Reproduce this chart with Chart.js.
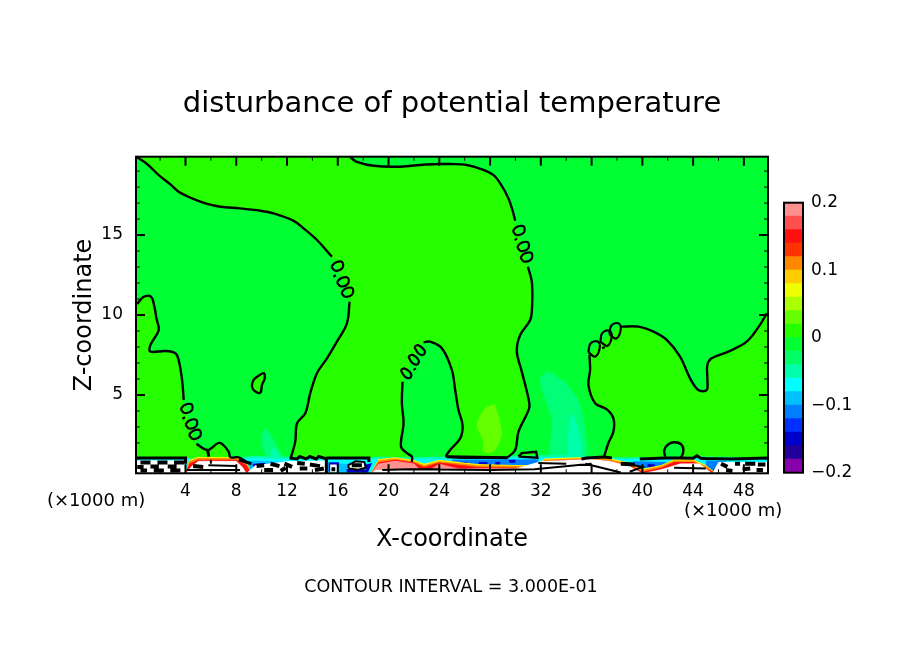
<!DOCTYPE html>
<html>
<head>
<meta charset="utf-8">
<script src="https://cdn.jsdelivr.net/npm/chart.js@4"></script>
<style>
  body { margin: 0; background: #fff; }
  #plot { position: absolute; left: 0; top: 0; }
  #bar { position: absolute; left: 770px; top: 170px; }
</style>
</head>
<body>
<canvas id="plot" width="904" height="654"></canvas>
<canvas id="bar" width="120" height="335"></canvas>
<script>
// axis values, x and z in 1000 m
var xMin = 0.1, xMax = 49.9, zMin = 0.1, zMax = 19.9;
var xTickLabels = [4, 8, 12, 16, 20, 24, 28, 32, 36, 40, 44, 48];
var xMinorTicks = [2, 6, 10, 14, 18, 22, 26, 30, 34, 38, 42, 46];
var zTickLabels = [5, 10, 15];
var zMinorTicks = [1, 2, 3, 4, 6, 7, 8, 9, 11, 12, 13, 14, 16, 17, 18, 19];

// colour levels, bottom to top
var levelEdges = [-0.2, -0.18, -0.16, -0.14, -0.12, -0.1, -0.08, -0.06, -0.04, -0.02, 0, 0.02, 0.04, 0.06, 0.08, 0.1, 0.12, 0.14, 0.16, 0.18, 0.2];
var levelColors = ['#8800aa', '#220099', '#0000cc', '#0030ff', '#0080ff', '#00c0ff', '#00ffff', '#00ffaa', '#00ff66', '#00ff33', '#26ff00', '#66ff00', '#aaff00', '#eeff00', '#ffcc00', '#ff8800', '#ff3300', '#ff1010', '#ff5050', '#ff9090'];
var colGreen = levelColors[9], colLime = levelColors[10], colLight = levelColors[11];
var colMint = levelColors[8], colAqua = levelColors[7], colCyan = levelColors[6];

// zero contour, top left down to the ground
var aX = [0.19, 0.98, 1.89, 2.81, 3.46, 4.52, 5.57, 6.75, 8.32, 9.9, 10.94, 12.52, 13.31, 14.36, 15.54];
var aZ = [19.86, 19.44, 18.75, 18.17, 17.71, 17.29, 16.98, 16.77, 16.67, 16.52, 16.35, 15.89, 15.42, 14.69, 13.64];
var a2X = [16.93, 16.72, 15.93, 15.15, 14.36, 13.83, 13.44, 12.79, 12.65, 12.31];
var a2Z = [10.83, 9.48, 8.33, 7.29, 6.36, 5.11, 3.86, 3.23, 2.08, 1.08];

// left edge contour
var bX = [0.19, 0.71, 1.29, 1.55, 1.71, 1.89, 1.24, 1.24, 2.42, 3.2, 3.46, 3.73, 3.86];
var bZ = [10.69, 11.14, 11.14, 10.52, 9.79, 9.06, 8.13, 7.71, 7.75, 7.61, 7.19, 5.94, 4.69];
var b2X = [4.86, 5.75, 6.54, 6.88, 7.4, 7.54, 8.19, 8.9];
var b2Z = [1.94, 1.56, 1.98, 1.94, 1.46, 1.1, 1.1, 0.75];
var bStubX = [5.75, 5.83], bStubZ = [1.56, 1.14];

// top arc, down past 30 km
var cX = [16.98, 17.51, 18.82, 20.66, 22.5, 23.94, 24.86, 26.17, 27.35, 28.27, 28.8, 29.45, 29.8, 29.98];
var cZ = [19.86, 19.58, 19.33, 19.27, 19.38, 19.44, 19.44, 19.38, 19.11, 18.75, 18.23, 17.29, 16.46, 15.89];
var c2X = [30.98, 31.29, 31.31, 31.16, 30.37, 30.11, 30.5, 31.02, 31.08, 30.24, 29.98, 29.37];
var c2Z = [13.02, 12.08, 10.52, 9.69, 8.75, 7.71, 6.46, 4.79, 4.17, 2.71, 1.56, 1.08];

// arch around 23 km
var dLeftX = [21.1, 21.05, 21.18, 20.98, 21.45, 21.84, 21.84];
var dLeftZ = [5.83, 4.48, 3.23, 1.77, 1.36, 1.14, 0.83];
var dRightX = [22.76, 23.28, 24.2, 24.99, 25.25, 25.51, 25.83, 25.65, 24.86, 24.6, 29.37];
var dRightZ = [8.29, 8.33, 7.92, 6.56, 5.31, 4.06, 3.12, 2.29, 1.56, 1.14, 1.08];

// right hand arch
var eLeftX = [35.83, 35.88, 35.75, 36.28, 37.2, 37.72, 37.72, 37.32, 36.98];
var eLeftZ = [7.5, 6.56, 5.63, 4.48, 4.1, 3.54, 2.71, 1.98, 1.14];
var eRightX = [38.3, 39.69, 40.87, 41.92, 42.97, 43.76, 44.41, 45.07, 45.12, 45.12, 45.46, 46.77, 48.22, 49.27, 49.8];
var eRightZ = [9.27, 9.27, 8.96, 8.44, 7.39, 6.04, 5.31, 5.31, 6.04, 6.88, 7.29, 7.71, 8.33, 9.38, 10.11];

// small closed contours
var loop10X = [9.76, 10.16, 10.24, 10.03, 9.9, 9.5, 9.24, 9.37, 9.76];
var loop10Z = [6.21, 6.36, 6.04, 5.63, 5.14, 5.21, 5.52, 5.94, 6.21];
var loop31X = [30.24, 30.5, 31.63, 31.73, 30.24];
var loop31Z = [1.14, 1.36, 1.44, 1.08, 1.14];
var hump42X = [41.79, 41.73, 42.05, 42.57, 43.1, 43.23, 43.02];
var hump42Z = [1.14, 1.56, 1.92, 2.04, 1.88, 1.46, 1.04];

// "0.00" contour labels
var labelLoops = [
  [[15.49, 15.8, 16.35, 16.35, 15.8, 15.49], [13.02, 13.27, 13.31, 12.92, 12.77, 13.02]],
  [[15.93, 16.24, 16.79, 16.79, 16.24, 15.93], [12.04, 12.29, 12.33, 11.94, 11.79, 12.04]],
  [[16.28, 16.59, 17.14, 17.14, 16.59, 16.28], [11.39, 11.64, 11.68, 11.29, 11.14, 11.39]],
  [[3.62, 3.93, 4.48, 4.48, 3.93, 3.62], [4.12, 4.37, 4.41, 4.02, 3.87, 4.12]],
  [[3.99, 4.3, 4.85, 4.85, 4.3, 3.99], [3.15, 3.4, 3.44, 3.05, 2.9, 3.15]],
  [[4.27, 4.58, 5.13, 5.13, 4.58, 4.27], [2.5, 2.75, 2.79, 2.4, 2.25, 2.5]],
  [[29.79, 30.1, 30.65, 30.65, 30.1, 29.79], [15.25, 15.5, 15.54, 15.15, 15, 15.25]],
  [[30.13, 30.44, 30.99, 30.99, 30.44, 30.13], [14.25, 14.5, 14.54, 14.15, 14, 14.25]],
  [[30.39, 30.7, 31.25, 31.25, 30.7, 30.39], [13.59, 13.84, 13.88, 13.49, 13.34, 13.59]],
  [[22.03, 22.34, 22.85, 22.74, 22.34, 22.03], [8.01, 8.11, 7.76, 7.51, 7.61, 8.01]],
  [[21.56, 21.87, 22.38, 22.27, 21.87, 21.56], [7.41, 7.51, 7.16, 6.91, 7.01, 7.41]],
  [[20.96, 21.27, 21.78, 21.67, 21.27, 20.96], [6.56, 6.66, 6.31, 6.06, 6.16, 6.56]],
  [[35.75, 35.9, 36.45, 36.65, 36.3, 35.75], [7.65, 8.2, 8.35, 8, 7.4, 7.65]],
  [[36.69, 36.84, 37.39, 37.59, 37.24, 36.69], [8.32, 8.87, 9.02, 8.67, 8.07, 8.32]],
  [[37.4, 37.55, 38.1, 38.3, 37.95, 37.4], [8.78, 9.33, 9.48, 9.13, 8.53, 8.78]]
];
var labelDotsX = [15.7, 15.8, null, 3.82, 3.9, null, 30.0, 30.08, null, 22.02, 22.1, null, 36.9, 36.98];
var labelDotsZ = [12.5, 12.38, null, 3.62, 3.5, null, 14.78, 14.68, null, 6.66, 6.56, null, 8.02, 7.9];

// weak perturbations above the ground layer
var blob28X = [28.27, 27.61, 26.96, 27.48, 27.43, 27.87, 28.4, 28.93, 28.4];
var blob28Z = [4.42, 4.17, 3.12, 2.08, 1.56, 1.36, 1.56, 2.61, 4.42];
var plume33X = [32.6, 31.94, 32.34, 32.87, 32.87, 35.49, 35.49, 34.96, 33.91];
var plume33Z = [6.5, 6.04, 4.69, 3.44, 1.14, 1.14, 2.81, 4.69, 5.83];
var core34X = [34.31, 34.17, 35.15, 35.09, 34.7];
var core34Z = [3.86, 1.14, 1.14, 2.39, 3.54];
var plume10X = [10.29, 10.03, 10.03, 10.55, 11.61, 11.21, 10.68];
var plume10Z = [2.92, 2.6, 1.77, 1.04, 1.04, 1.77, 2.6];
var core10X = [10.69, 10.82, 11.47, 11.08];
var core10Z = [1.56, 1.04, 1.04, 1.69];

// ground layer: top of each band along x
var aquaX = [0.1, 4, 8.5, 9.2, 12, 15, 15.1, 18.5, 19, 21, 25, 30, 33, 36, 37, 39, 45, 49.9, 49.9, 0.1];
var aquaZ = [1.05, 1.05, 1.1, 1.2, 1.15, 1.05, 1.05, 1.05, 1.15, 1.1, 1.15, 1.2, 1.25, 1.2, 1.1, 1.1, 1.15, 1.1, 0.1, 0.1];
var cyanX = [0.1, 4, 8.5, 9.2, 12, 15, 15.1, 18.5, 19, 21, 25, 30, 33, 36, 37, 39, 45, 49.9, 49.9, 0.1];
var cyanZ = [0.98, 0.98, 0.98, 1.05, 1, 0.95, 1, 1, 1, 0.98, 1.02, 1.08, 1.12, 1.08, 1, 1, 1.02, 1, 0.1, 0.1];
var skyX = [8.6, 9.5, 12, 12.2, 8.6, null, 15.2, 18.4, 18.4, 15.2];
var skyZ = [0.85, 0.9, 0.8, 0.3, 0.3, null, 0.7, 0.7, 0.2, 0.2];
var sky2X = [25, 31.8, 31.8, 25, null, 39.3, 42, 42, 39.3, null, 45, 46.6, 46.6, 45];
var sky2Z = [0.95, 0.98, 0.55, 0.55, null, 0.85, 0.8, 0.4, 0.4, null, 0.9, 0.85, 0.2, 0.2];
var darkBlueX = [25.4, 26.2, null, 27.1, 27.8, null, 28.4, 28.8, null, 29.5, 30, null, 9.3, 10.3, null, 15.4, 15.4, 16.1, null, 16.7, 18.3, 18.5, 16.7, null, 40.4, 41, null, 38.8, 39.3, null, 45.6, 46, null, 47, 47.2];
var darkBlueZ = [0.72, 0.72, null, 0.72, 0.72, null, 0.72, 0.72, null, 0.85, 0.85, null, 0.6, 0.65, null, 0.2, 0.7, 0.7, null, 0.25, 0.25, 0.6, 0.25, null, 0.6, 0.55, null, 0.55, 0.6, null, 0.3, 0.3, null, 0.5, 0.3];

var stripX = [0.1, 4, 4.3, 5, 8, 8.8, 9.2, 15, 18.6, 19.2, 20.5, 22, 22.8, 24, 27, 30, 31.7, 32.3, 36, 37.5, 39, 40, 41.5, 42.5, 44, 45, 45.8, 49.9];
var yellowZ = [0.1, 0.1, 0.95, 1.12, 1.12, 0.85, 0.1, 0.1, 0.1, 1.0, 1.1, 0.95, 0.7, 0.95, 0.68, 0.62, 0.62, 1.02, 1.14, 1.02, 0.78, 0.38, 0.62, 0.98, 0.98, 0.62, 0.1, 0.1];
var orangeZ = [0.1, 0.1, 0.85, 1.05, 1.05, 0.75, 0.1, 0.1, 0.1, 0.9, 1.02, 0.85, 0.6, 0.85, 0.6, 0.55, 0.55, 0.95, 1.08, 0.95, 0.7, 0.3, 0.55, 0.9, 0.9, 0.55, 0.1, 0.1];
var redZ = [0.1, 0.1, 0.72, 0.95, 0.95, 0.62, 0.1, 0.1, 0.1, 0.78, 0.94, 0.78, 0.5, 0.78, 0.5, 0.45, 0.45, 0.85, 1, 0.85, 0.6, 0.2, 0.45, 0.8, 0.8, 0.42, 0.1, 0.1];
var pinkZ = [0.1, 0.1, 0.1, 0.88, 0.88, 0.1, 0.1, 0.1, 0.1, 0.7, 0.88, 0.72, 0.1, 0.7, 0.1, 0.1, 0.1, 0.1, 0.1, 0.1, 0.1, 0.1, 0.1, 0.1, 0.1, 0.1, 0.1, 0.1];

var whiteX = [0.1, 3.9, 4, 4.5, 5, 8, 8.5, 8.8, 9.5, 12, 15, 15.05, 18.6, 19, 24, 27, 30, 32, 36, 37.5, 39, 40, 41.5, 43, 44.5, 45.5, 46, 49.9, 49.9, 0.1];
var whiteZ = [0.9, 0.9, 0.1, 0.55, 0.85, 0.85, 0.5, 0.1, 0.6, 0.85, 0.9, 0.1, 0.1, 0.3, 0.35, 0.4, 0.4, 0.85, 1, 0.85, 0.55, 0.1, 0.35, 0.72, 0.72, 0.1, 0.8, 0.8, 0.1, 0.1];
var ovalX = [16.8, 17.4, 18.1, 18.2, 17.6, 16.9];
var ovalZ = [0.6, 0.85, 0.8, 0.45, 0.32, 0.4];
var oval2X = [15.4, 15.9, 16, 15.9, 15.4];
var oval2Z = [0.65, 0.65, 0.4, 0.15, 0.15];

// black contour fragments in the ground layer
var groundLineX = [0.1, 4, 4, null, 12.2, 12.8, 13, 13.5, 13.8, 14.3, 14.5, 15.1, 15.1, 15.1, null, 15.1, 18.45, 18.45, null, 35.2, 35.6, 36.98, 37.6, null, 39.8, 41.8, 43, 44, 44.3, 44.6, 45, 47, 49.9, null, 24.6, 29.37, null, 8.2, 9.2];
var groundLineZ = [1.06, 1.06, 0.7, null, 1.05, 1, 1.15, 1, 1.15, 1, 1.15, 1, 1.06, 0.1, null, 1.06, 1.06, 0.8, null, 1, 1.05, 1.12, 1.05, null, 1, 1.06, 1.06, 1.04, 1.2, 1.04, 1.02, 1.0, 1.06, null, 1.14, 1.08, null, 0.95, 0.7];
var groundThinX = [4.1, 8.3, null, 21.5, 28, 31.5, 36, null, 35.5, 38.3, null, 5.8, 8, null, 19.5, 21.5, 24, null, 31.8, 34, null, 6, 6, null, 38.5, 40, 39, null, 42.5, 45];
var groundThinZ = [0.3, 0.3, null, 0.35, 0.3, 0.35, 0.7, null, 0.7, 0.15, null, 0.6, 0.55, null, 0.3, 0.35, 0.35, null, 0.75, 0.7, null, 0.95, 0.7, null, 0.75, 0.5, 0.2, null, 0.45, 0.4];
var mottleX = [0.45, 1.24, null, 1.79, 2.58, null, 3.1, 3.9, null, 1.24, 1.9, null, 2.6, 3.3, null, 0.45, 0.97, null, 1.5, 2.3, null, 2.8, 3.6, null, 0.2, 0.7, null,
  9.6, 10.2, null, 10.7, 11.4, null, 11.8, 12.4, null, 10.2, 10.9, null, 11.5, 11.9, null, 12.8, 13.4, null, 13.8, 14.6, null, 13, 13.6, null, 14.2, 14.9, null,
  46.2, 46.7, null, 47.3, 47.7, null, 48.1, 48.9, null, 49.1, 49.7, null, 47.9, 48.5, null, 46.6, 47.1, null, 49, 49.5, null,
  15.5, 15.8, null, 17.1, 17.9, null, 38.3, 39.4, null, 4.6, 5.4];
var mottleZ = [0.77, 0.77, null, 0.77, 0.77, null, 0.77, 0.77, null, 0.52, 0.52, null, 0.52, 0.52, null, 0.27, 0.27, null, 0.27, 0.27, null, 0.27, 0.27, null, 0.5, 0.5, null,
  0.55, 0.6, null, 0.7, 0.55, null, 0.7, 0.5, null, 0.3, 0.3, null, 0.25, 0.45, null, 0.75, 0.7, null, 0.65, 0.55, null, 0.4, 0.4, null, 0.3, 0.4, null,
  0.7, 0.5, null, 0.7, 0.7, null, 0.7, 0.7, null, 0.65, 0.65, null, 0.35, 0.4, null, 0.3, 0.25, null, 0.3, 0.3, null,
  0.35, 0.35, null, 0.6, 0.6, null, 0.7, 0.65, null, 0.55, 0.5];

// band label text
var plotTitle = 'disturbance of potential temperature';
var xTitle = 'X-coordinate';
var zTitle = 'Z-coordinate';
var unitLabel = '(\u00d71000 m)';
var intervalLabel = 'CONTOUR INTERVAL = 3.000E-01';
var barTicks = [-0.2, -0.1, 0, 0.1, 0.2];

var fontName = '"DejaVu Sans"';

function pts(xs, zs) {
  return xs.map(function (x, i) { return { x: x, y: zs[i] }; });
}
function area(xs, zs, color, tension) {
  return { type: 'scatter', data: pts(xs, zs), showLine: true, fill: 'shape', backgroundColor: color, borderWidth: 0, pointRadius: 0, spanGaps: false, tension: tension || 0 };
}
// bands are given as their top line, closed along the ground
function band(xs, zs, color) {
  return area(xs.concat([49.9, 0.1]), zs.concat([0.1, 0.1]), color);
}
function line(xs, zs, width, color, tension) {
  return { type: 'scatter', data: pts(xs, zs), showLine: true, fill: false, borderColor: color || '#000', borderWidth: width || 2.4, pointRadius: 0, spanGaps: false, borderCapStyle: 'butt', tension: tension || 0 };
}
function curve(xs, zs) {
  return line(xs, zs, 2.4, '#000', 0.35);
}
// split a list with null gaps into closed patches
function patches(xs, zs, color) {
  var out = [], cx = [], cz = [];
  xs.forEach(function (x, i) {
    if (x === null) { out.push(area(cx, cz, color)); cx = []; cz = []; }
    else { cx.push(x); cz.push(zs[i]); }
  });
  out.push(area(cx, cz, color));
  return out;
}

// lime areas are closed along the contours that bound them
var bigLimeX = aX.concat(a2X, [21.84], dLeftX.slice().reverse(), dRightX, c2X.slice().reverse(), cX.slice().reverse(), [0.1]);
var bigLimeZ = aZ.concat(a2Z, [1], dLeftZ.slice().reverse(), dRightZ, c2Z.slice().reverse(), cZ.slice().reverse(), [19.9]);
var leftLimeX = [0.1].concat(bX, b2X.slice(0, 6), [0.1]);
var leftLimeZ = [10.6].concat(bZ, b2Z.slice(0, 6), [1]);
var rightLimeX = [36.98].concat(eLeftX.slice().reverse(), eRightX, [49.9, 49.9]);
var rightLimeZ = [1].concat(eLeftZ.slice().reverse(), eRightZ, [10.2, 1]);

// first entry is painted first
var layers = [
  area([0.1, 49.9, 49.9, 0.1], [0.1, 0.1, 19.9, 19.9], colGreen),
  area(bigLimeX, bigLimeZ, colLime, 0.2),
  area(leftLimeX, leftLimeZ, colLime, 0.2),
  area(rightLimeX, rightLimeZ, colLime, 0.2),
  area(hump42X, hump42Z, colGreen, 0.35),
  area(loop10X, loop10Z, colLime, 0.35),
  area(loop31X, loop31Z, colLime),
  area(blob28X, blob28Z, colLight, 0.3),
  area(plume33X, plume33Z, '#00ff77', 0.3),
  area(core34X, core34Z, colAqua, 0.3),
  area(plume10X, plume10Z, '#00ff77', 0.3),
  area(core10X, core10Z, colAqua, 0.3),
  area(aquaX, aquaZ, colAqua),
  area(cyanX, cyanZ, colCyan)
].concat(
  patches(skyX, skyZ, levelColors[5]),
  patches(sky2X, sky2Z, levelColors[4]),
  [
    line(darkBlueX, darkBlueZ, 3, levelColors[2]),
    band(stripX, yellowZ, '#ffee00'),
    band(stripX, orangeZ, levelColors[15]),
    band(stripX, redZ, levelColors[17]),
    band(stripX, pinkZ, levelColors[19]),
    area(whiteX, whiteZ, '#ffffff'),
    area(ovalX, ovalZ, '#ffffff'),
    area(oval2X, oval2Z, '#ffffff'),
    line(ovalX.concat(ovalX[0]), ovalZ.concat(ovalZ[0]), 2),
    line(mottleX, mottleZ, 4),
    line(groundThinX, groundThinZ, 2),
    line(groundLineX, groundLineZ, 3),
    curve(aX, aZ), curve(a2X, a2Z),
    curve(bX, bZ), curve(b2X, b2Z), line(bStubX, bStubZ, 3),
    curve(cX, cZ), curve(c2X, c2Z),
    curve(dLeftX, dLeftZ), curve(dRightX, dRightZ),
    curve(eLeftX, eLeftZ), curve(eRightX, eRightZ),
    curve(loop10X, loop10Z), line(loop31X, loop31Z), curve(hump42X, hump42Z),
    line(labelDotsX, labelDotsZ, 3)
  ],
  labelLoops.map(function (l) { return line(l[0], l[1], 2.2, '#000', 0.4); })
);

// frame, inward ticks and the free text labels
var framePlugin = {
  id: 'frame',
  afterDatasetsDraw: function (chart) {
    var c = chart.ctx, a = chart.chartArea, sx = chart.scales.x, sz = chart.scales.y;
    c.save();
    c.strokeStyle = '#000';
    function tick(vals, len, w) {
      c.lineWidth = w;
      vals.forEach(function (v) {
        var px = sx.getPixelForValue(v);
        c.beginPath();
        c.moveTo(px, a.top); c.lineTo(px, a.top + len);
        c.moveTo(px, a.bottom); c.lineTo(px, a.bottom - len);
        c.stroke();
      });
    }
    function tickZ(vals, len, w) {
      c.lineWidth = w;
      vals.forEach(function (v) {
        var py = sz.getPixelForValue(v);
        c.beginPath();
        c.moveTo(a.left, py); c.lineTo(a.left + len, py);
        c.moveTo(a.right, py); c.lineTo(a.right - len, py);
        c.stroke();
      });
    }
    tick(xTickLabels, 9, 2); tick(xMinorTicks, 4, 1);
    tickZ(zTickLabels, 9, 2); tickZ(zMinorTicks, 4, 1);
    c.lineWidth = 2;
    c.strokeRect(a.left, a.top, a.right - a.left, a.bottom - a.top);
    c.fillStyle = '#000';
    c.font = '18px ' + fontName;
    c.textBaseline = 'middle';
    c.textAlign = 'left';
    c.fillText(unitLabel, 47, 501);
    c.fillText(unitLabel, 684, 511);
    c.textAlign = 'center';
    c.font = '17.5px ' + fontName;
    c.fillText(intervalLabel, 451, 587);
    c.restore();
  }
};

new Chart(document.getElementById('plot'), {
  type: 'scatter',
  data: { datasets: layers.slice().reverse() },
  options: {
    responsive: false,
    animation: false,
    devicePixelRatio: 1,
    plugins: {
      legend: { display: false },
      tooltip: { enabled: false },
      title: {
        display: true,
        text: plotTitle,
        color: '#000',
        font: { family: 'DejaVu Sans', size: 29, weight: 'normal', lineHeight: 1.2 },
        padding: { top: 87, bottom: 34.9 }
      }
    },
    scales: {
      x: {
        type: 'linear', min: xMin, max: xMax,
        grid: { display: false }, border: { display: false },
        afterFit: function (s) { s.height = 180.7; },
        afterBuildTicks: function (s) { s.ticks = xTickLabels.map(function (v) { return { value: v }; }); },
        ticks: { color: '#000', padding: 0, maxRotation: 0, font: { family: 'DejaVu Sans', size: 17 } },
        title: { display: true, text: xTitle, color: '#000', font: { family: 'DejaVu Sans', size: 24 }, padding: { top: 0, bottom: 99.6 } }
      },
      y: {
        type: 'linear', min: zMin, max: zMax,
        grid: { display: false }, border: { display: false },
        afterFit: function (s) { s.width = 136; },
        afterBuildTicks: function (s) { s.ticks = zTickLabels.map(function (v) { return { value: v }; }); },
        ticks: { color: '#000', padding: 5, font: { family: 'DejaVu Sans', size: 17 } },
        title: { display: true, text: zTitle, color: '#000', font: { family: 'DejaVu Sans', size: 24 }, padding: { top: 70, bottom: 0 } }
      },
      // empty right margin so the title centres on the page
      right: {
        type: 'linear', position: 'right', min: 0, max: 1,
        grid: { display: false }, border: { display: false },
        ticks: { display: false },
        afterFit: function (s) { s.width = 136; }
      }
    }
  },
  plugins: [framePlugin]
});

// colour bar
var barFrame = {
  id: 'barFrame',
  afterDatasetsDraw: function (chart) {
    var c = chart.ctx, a = chart.chartArea;
    c.save();
    c.strokeStyle = '#000';
    c.lineWidth = 2;
    c.strokeRect(a.left, a.top, a.right - a.left, a.bottom - a.top);
    c.restore();
  }
};

new Chart(document.getElementById('bar'), {
  type: 'bar',
  data: {
    labels: [''],
    datasets: levelColors.map(function (col, i) {
      return { data: [[levelEdges[i], levelEdges[i + 1]]], backgroundColor: col, borderWidth: 0, barPercentage: 1, categoryPercentage: 1, grouped: false };
    })
  },
  options: {
    responsive: false,
    animation: false,
    devicePixelRatio: 1,
    layout: { padding: { left: 14, right: 0, top: 32.7, bottom: 32.3 } },
    plugins: { legend: { display: false }, tooltip: { enabled: false } },
    scales: {
      x: { display: false },
      y: {
        position: 'right', min: -0.2, max: 0.2,
        grid: { display: false, drawTicks: false }, border: { display: false },
        afterFit: function (s) { s.width = 87; },
        afterBuildTicks: function (s) { s.ticks = barTicks.map(function (v) { return { value: v }; }); },
        ticks: {
          color: '#000', padding: 8, font: { family: 'DejaVu Sans', size: 17 },
          callback: function (v) { return v === 0 ? '0' : String(v).replace('-', '\u2212'); }
        }
      }
    }
  },
  plugins: [barFrame]
});
</script>
</body>
</html>
